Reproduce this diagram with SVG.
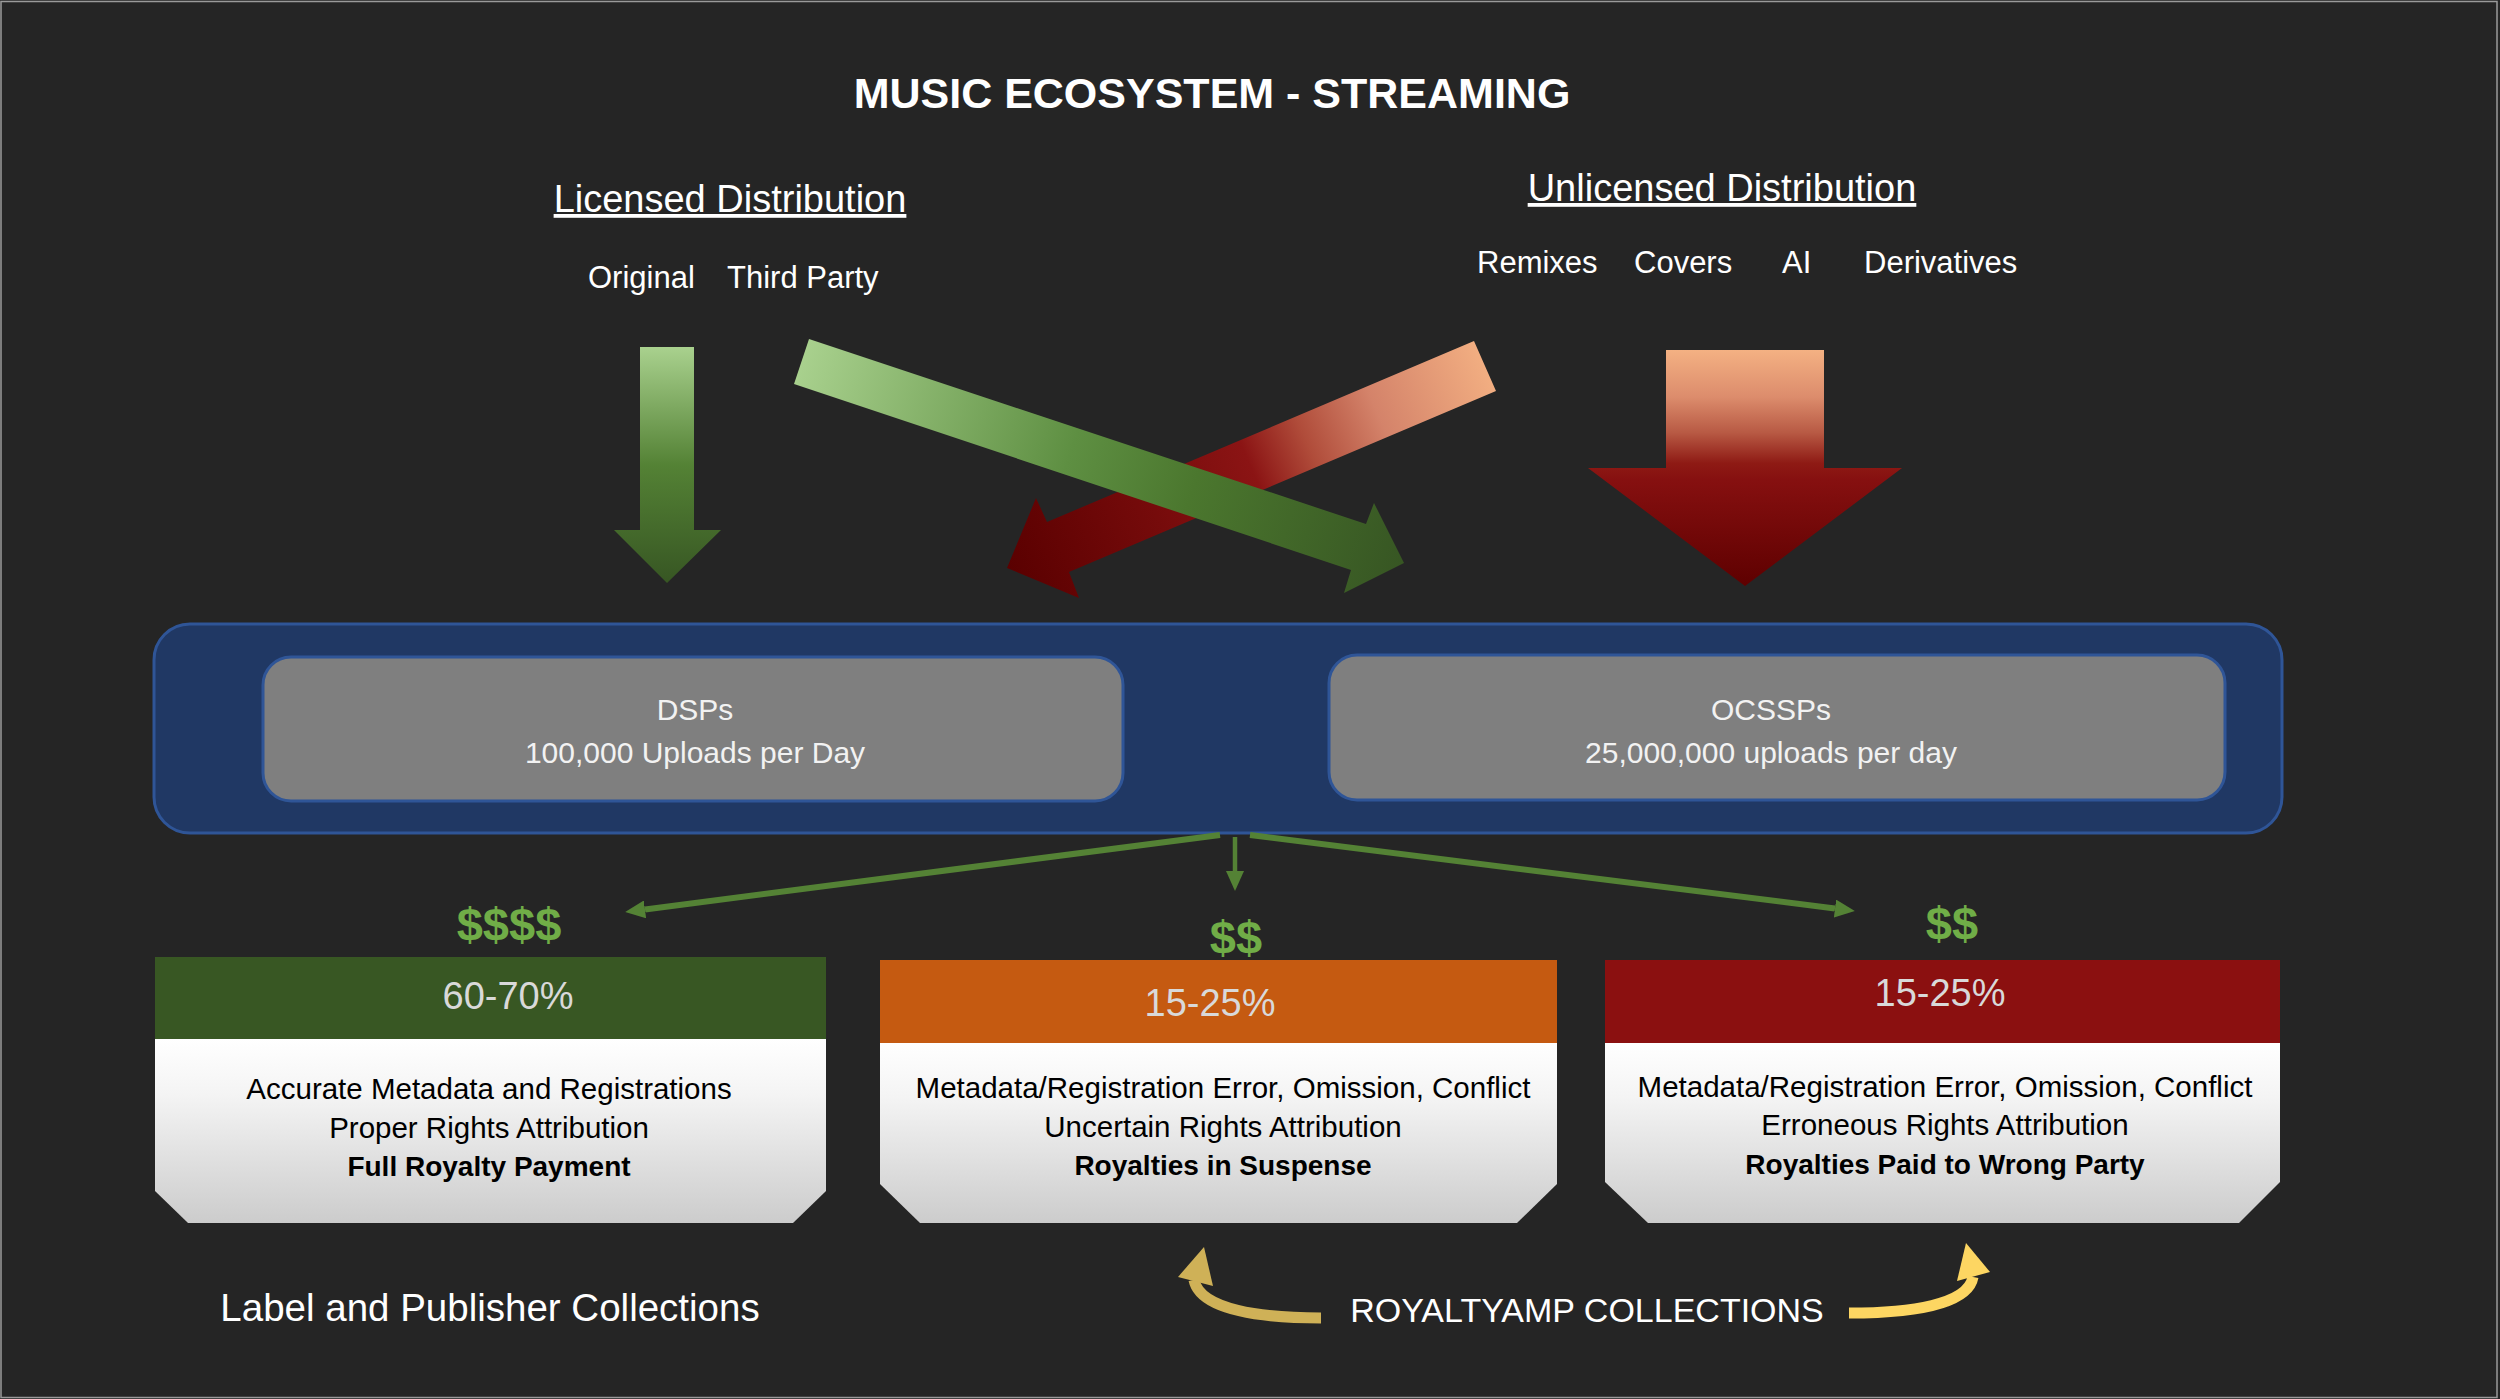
<svg xmlns="http://www.w3.org/2000/svg" width="2500" height="1399" viewBox="0 0 2500 1399">
<style>
text{font-family:'Liberation Sans',Arial,sans-serif}
.w{fill:#ffffff}
.hd{font-size:38px;fill:#ffffff;text-decoration:underline}
.sub{font-size:31px;fill:#ffffff}
.box{font-size:30px;fill:#f2f2f2;text-anchor:middle}
.pct{font-size:38px;fill:#d9d9d9;text-anchor:middle}
.body{font-size:29.5px;fill:#000000;text-anchor:middle}
.bold{font-size:28px;font-weight:bold;fill:#000000;text-anchor:middle}
.usd{font-size:47px;font-weight:bold;fill:#70ad47;text-anchor:middle}
.conn{stroke:#548235;fill:none}
</style>
<defs>
<linearGradient id="gDown" x1="0" y1="347" x2="0" y2="583" gradientUnits="userSpaceOnUse">
<stop offset="0" stop-color="#a9d18e"/><stop offset="0.5" stop-color="#548235"/><stop offset="1" stop-color="#375623"/>
</linearGradient>
<linearGradient id="rDown" x1="0" y1="350" x2="0" y2="586" gradientUnits="userSpaceOnUse">
<stop offset="0" stop-color="#f4b183"/><stop offset="0.2" stop-color="#dc8c6c"/><stop offset="0.35" stop-color="#b85a44"/><stop offset="0.48" stop-color="#8e1a14"/><stop offset="0.55" stop-color="#861010"/><stop offset="1" stop-color="#5e0000"/>
</linearGradient>
<linearGradient id="gDiag" x1="800" y1="360" x2="1404" y2="560" gradientUnits="userSpaceOnUse">
<stop offset="0" stop-color="#a9d18e"/><stop offset="0.45" stop-color="#5e8f42"/><stop offset="0.65" stop-color="#4b772e"/><stop offset="1" stop-color="#375623"/>
</linearGradient>
<linearGradient id="rDiag" x1="1495" y1="366" x2="1010" y2="575" gradientUnits="userSpaceOnUse">
<stop offset="0" stop-color="#f4b183"/><stop offset="0.24" stop-color="#d4836a"/><stop offset="0.385" stop-color="#b04c3a"/><stop offset="0.5" stop-color="#8b1414"/><stop offset="0.7" stop-color="#760b0b"/><stop offset="1" stop-color="#5a0000"/>
</linearGradient>
<linearGradient id="cardBody" x1="0" y1="0" x2="0" y2="1">
<stop offset="0" stop-color="#ffffff"/><stop offset="0.3" stop-color="#f4f4f4"/><stop offset="1" stop-color="#cccccc"/>
</linearGradient>
<marker id="ah" markerUnits="userSpaceOnUse" markerWidth="20" markerHeight="18" refX="0" refY="9" orient="auto">
<path d="M0,0 L20,9 L0,18 Z" fill="#548235"/>
</marker>
</defs>
<rect x="0" y="0" width="2500" height="1399" fill="#252525"/>
<rect x="1" y="1.5" width="2496" height="1396" fill="none" stroke="#9a9a9a" stroke-width="1.5"/>

<g id="title"><text x="1212" y="108" font-size="43" font-weight="bold" class="w" text-anchor="middle">MUSIC ECOSYSTEM - STREAMING</text></g>

<g id="licensed">
<text class="hd" x="730" y="212" text-anchor="middle">Licensed Distribution</text>
<text class="sub" x="588" y="288" font-size="32">Original</text>
<text class="sub" x="727" y="288" font-size="32">Third Party</text>
</g>
<g id="unlicensed">
<text class="hd" x="1722" y="201" text-anchor="middle">Unlicensed Distribution</text>
<text class="sub" x="1477" y="273">Remixes</text>
<text class="sub" x="1634" y="273">Covers</text>
<text class="sub" x="1782" y="273">AI</text>
<text class="sub" x="1864" y="273">Derivatives</text>
</g>

<g id="flow-arrows">
<polygon id="arrow-original" points="640,347 694,347 694,530 721,530 667,583 614,530 640,530" fill="url(#gDown)"/>
<polygon id="arrow-unlicensed" points="1666,350 1824,350 1824,468 1902,468 1745,586 1588,468 1666,468" fill="url(#rDown)"/>
<polygon id="arrow-unlicensed-dsp" points="1474,341 1047,522 1036,498 1007,568 1079,598 1069,572 1496,391" fill="url(#rDiag)"/>
<polygon id="arrow-thirdparty" points="809,339 1366,524 1374,503 1404,563 1344,593 1351,570 794,384" fill="url(#gDiag)"/>
</g>

<g id="platforms">
<rect x="154" y="624" width="2128" height="209" rx="36" fill="#203864" stroke="#2f5597" stroke-width="3"/>
<g id="dsps">
<rect x="263" y="657" width="860" height="144" rx="28" fill="#7f7f7f" stroke="#2f5597" stroke-width="3"/>
<text class="box" x="695" y="720">DSPs</text>
<text class="box" x="695" y="763">100,000 Uploads per Day</text>
</g>
<g id="ocssps">
<rect x="1329" y="655" width="896" height="145" rx="28" fill="#7f7f7f" stroke="#2f5597" stroke-width="3"/>
<text class="box" x="1771" y="720">OCSSPs</text>
<text class="box" x="1771" y="763">25,000,000 uploads per day</text>
</g>
</g>

<g id="connectors">
<path class="conn" stroke-width="6" d="M1220,835 L645,909.4" marker-end="url(#ah)"/>
<path class="conn" stroke-width="4.5" d="M1235,837 L1235,871" marker-end="url(#ah)"/>
<path class="conn" stroke-width="6" d="M1250,835 L1835,908.5" marker-end="url(#ah)"/>
<path d="M1321,1318 C1262,1318 1200,1310 1194,1280" fill="none" stroke="#cfb157" stroke-width="11"/>
<polygon points="1204,1247 1213,1286 1178,1277" fill="#cfb157"/>
<path d="M1849,1313 C1910,1313 1968,1305 1973,1277" fill="none" stroke="#fdd662" stroke-width="11"/>
<polygon points="1966,1243 1990,1272 1957,1281" fill="#fdd662"/>
</g>

<g id="usd-full"><text class="usd" x="509" y="941">$$$$</text></g>
<g id="usd-suspense"><text class="usd" x="1236" y="954">$$</text></g>
<g id="usd-wrong"><text class="usd" x="1952" y="940">$$</text></g>

<g id="card-accurate">
<rect x="155" y="957" width="671" height="82" fill="#385723"/>
<path d="M155,1039 H826 V1191 L793,1223 H188 L155,1191 Z" fill="url(#cardBody)"/>
<text class="pct" x="508" y="1009">60-70%</text>
<text class="body" x="489" y="1099">Accurate Metadata and Registrations</text>
<text class="body" x="489" y="1138">Proper Rights Attribution</text>
<text class="bold" x="489" y="1176">Full Royalty Payment</text>
</g>
<g id="card-suspense">
<rect x="880" y="960" width="677" height="83" fill="#c55a11"/>
<path d="M880,1043 H1557 V1184 L1517,1223 H920 L880,1184 Z" fill="url(#cardBody)"/>
<text class="pct" x="1210" y="1016">15-25%</text>
<text class="body" x="1223" y="1098">Metadata/Registration Error, Omission, Conflict</text>
<text class="body" x="1223" y="1137">Uncertain Rights Attribution</text>
<text class="bold" x="1223" y="1175">Royalties in Suspense</text>
</g>
<g id="card-wrong">
<rect x="1605" y="960" width="675" height="83" fill="#8b1010"/>
<path d="M1605,1043 H2280 V1182 L2239,1223 H1648 L1605,1182 Z" fill="url(#cardBody)"/>
<text class="pct" x="1940" y="1006">15-25%</text>
<text class="body" x="1945" y="1097">Metadata/Registration Error, Omission, Conflict</text>
<text class="body" x="1945" y="1135">Erroneous Rights Attribution</text>
<text class="bold" x="1945" y="1174">Royalties Paid to Wrong Party</text>
</g>

<g id="label-collections"><text class="w" x="490" y="1321" font-size="38.5" text-anchor="middle">Label and Publisher Collections</text></g>
<g id="royaltyamp-collections"><text class="w" x="1587" y="1322" font-size="34" text-anchor="middle">ROYALTYAMP COLLECTIONS</text></g>
</svg>
